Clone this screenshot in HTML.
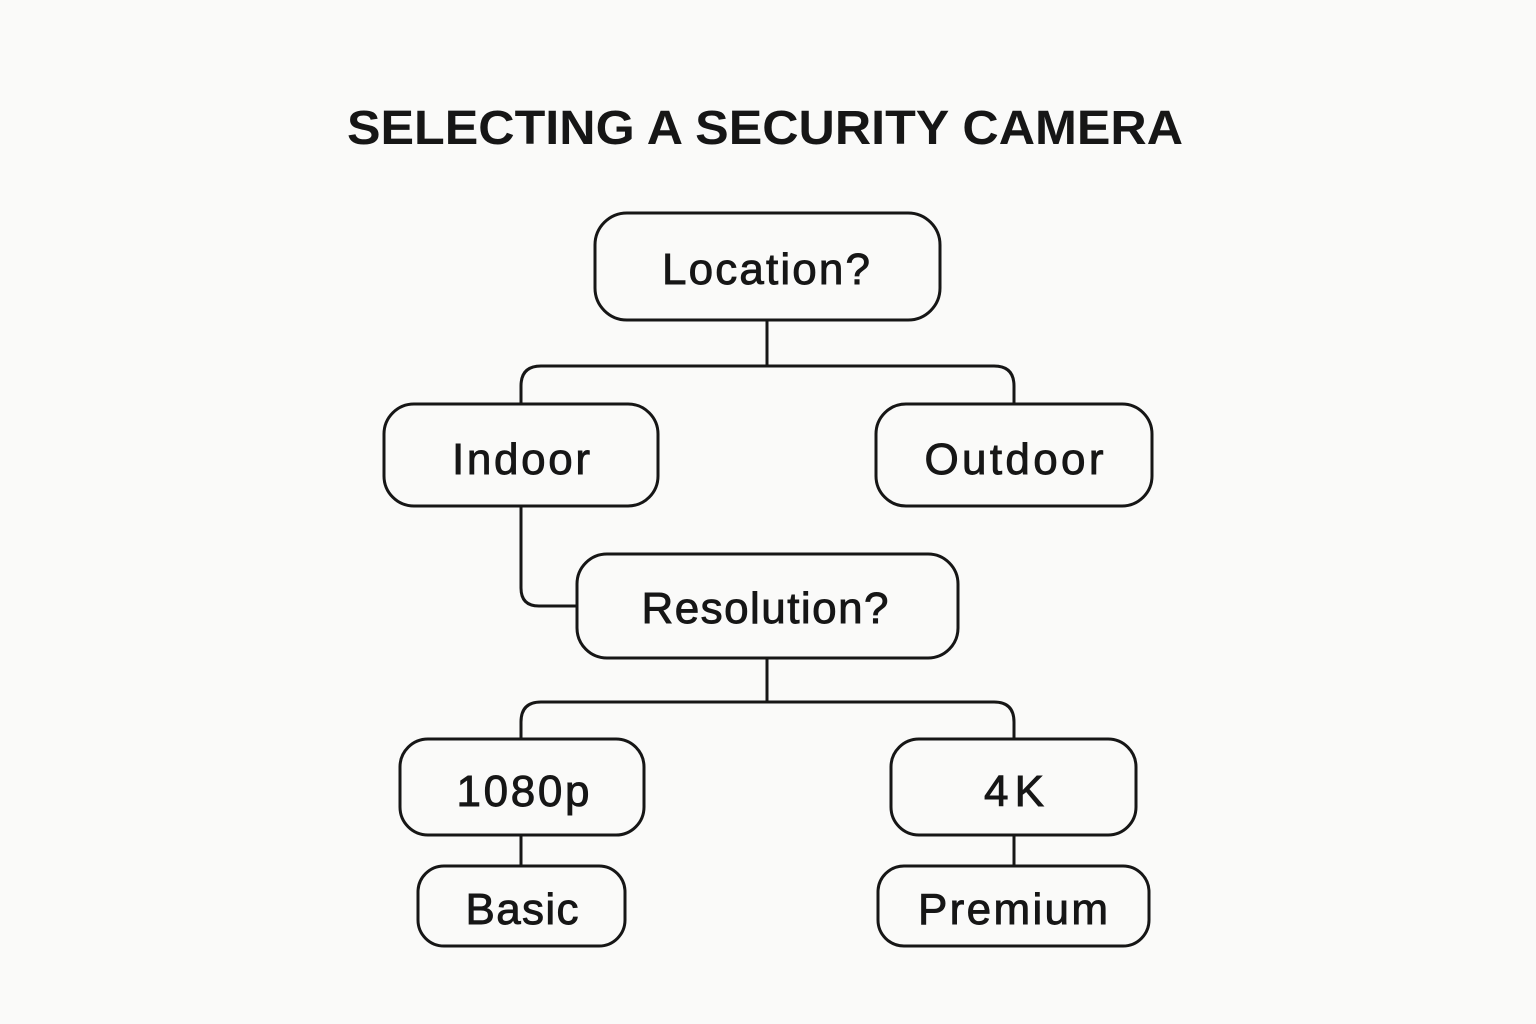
<!DOCTYPE html>
<html><head><meta charset="utf-8"><style>
html,body{margin:0;padding:0;background:#fafaf9;}
svg{display:block}
text{font-family:"Liberation Sans",sans-serif;fill:#161616;}
</style></head><body>
<svg width="1536" height="1024" viewBox="0 0 1536 1024">
<rect width="1536" height="1024" fill="#fafaf9"/>
<text x="765" y="144" text-anchor="middle" font-size="48" font-weight="bold" textLength="836" lengthAdjust="spacingAndGlyphs">SELECTING A SECURITY CAMERA</text>
<g fill="none" stroke="#161616" stroke-width="3">
<path d="M767 320 V366"/>
<path d="M521 404 V386 Q521 366 541 366 H994 Q1014 366 1014 386 V404"/>
<path d="M521 506 V588 Q521 606 539 606 H577"/>
<path d="M767 658 V702"/>
<path d="M521 739 V722 Q521 702 541 702 H994 Q1014 702 1014 722 V739"/>
<path d="M521 835 V866"/>
<path d="M1014 835 V866"/>
<rect x="595" y="213" width="345" height="107" rx="32" fill="#fafaf9"/>
<rect x="384" y="404" width="274" height="102" rx="30" fill="#fafaf9"/>
<rect x="876" y="404" width="276" height="102" rx="30" fill="#fafaf9"/>
<rect x="577" y="554" width="381" height="104" rx="30" fill="#fafaf9"/>
<rect x="400" y="739" width="244" height="96" rx="28" fill="#fafaf9"/>
<rect x="891" y="739" width="245" height="96" rx="28" fill="#fafaf9"/>
<rect x="418" y="866" width="207" height="80" rx="26" fill="#fafaf9"/>
<rect x="878" y="866" width="271" height="80" rx="26" fill="#fafaf9"/>
</g>
<g font-size="44" text-anchor="middle" stroke="#161616" stroke-width="0.9" lengthAdjust="spacingAndGlyphs">
<text x="766" y="284" textLength="208">Location?</text>
<text x="521" y="474" textLength="138">Indoor</text>
<text x="1014" y="474" textLength="179">Outdoor</text>
<text x="765" y="623" textLength="247">Resolution?</text>
<text x="523" y="806" textLength="133">1080p</text>
<text x="1014" y="806" textLength="60">4K</text>
<text x="522" y="924" textLength="113">Basic</text>
<text x="1013" y="924" textLength="190">Premium</text>
</g>
</svg>
</body></html>
